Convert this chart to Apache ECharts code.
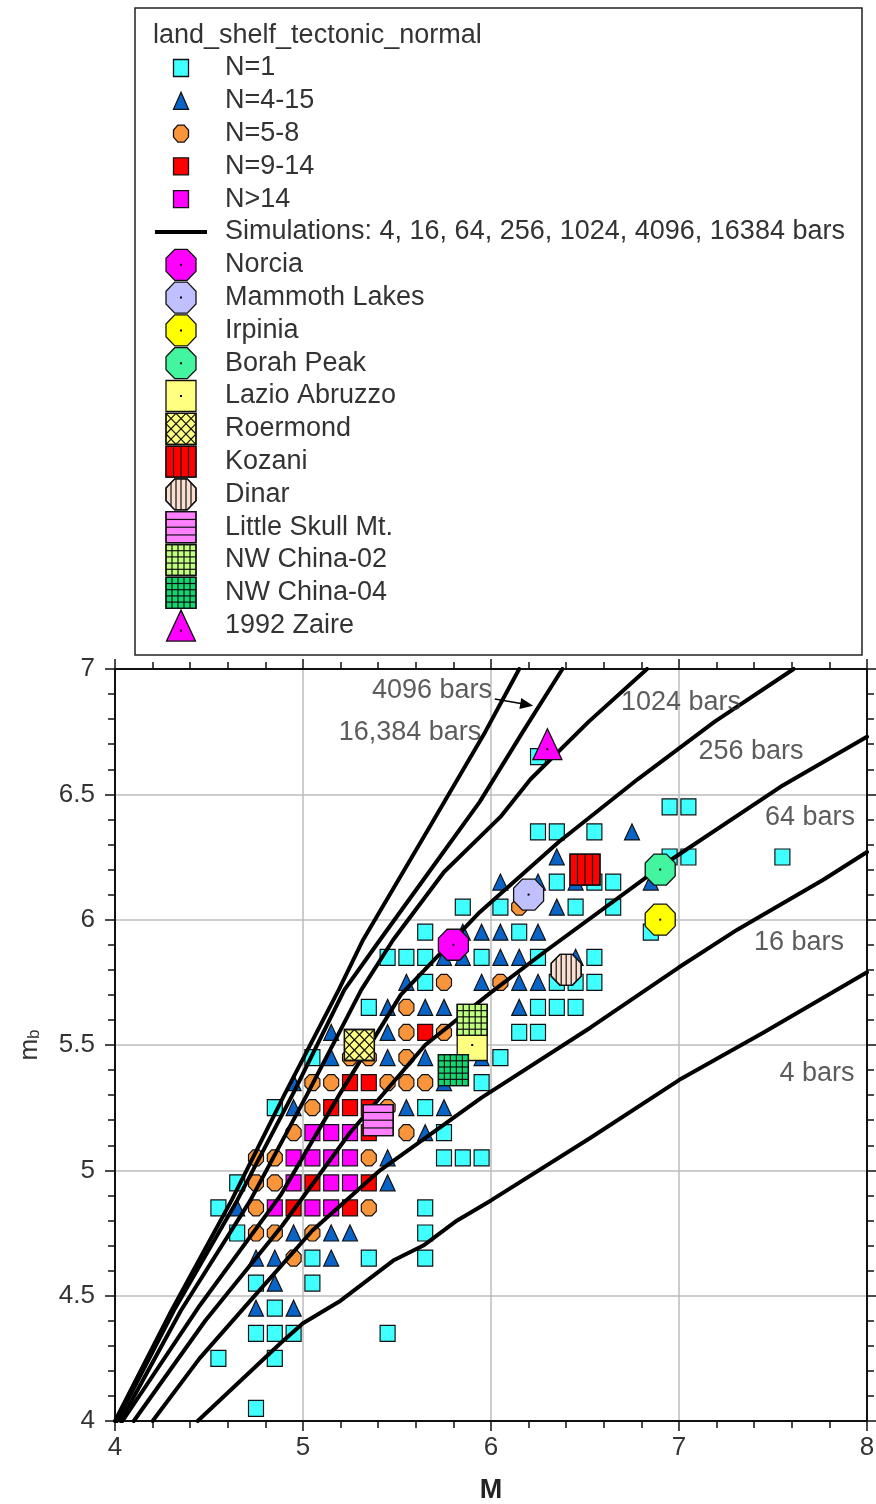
<!DOCTYPE html>
<html>
<head>
<meta charset="utf-8">
<title>mb versus M</title>
<script src="https://cdn.jsdelivr.net/npm/echarts@6.0.0/dist/echarts.min.js"></script>
<style>
  html, body { margin: 0; padding: 0; background: #ffffff; }
  #chart { width: 876px; height: 1504px; }
</style>
</head>
<body>
<div id="chart"></div>
<script>
// ---------- binned observations: [M, mb] at the centre of each populated bin ----------
const binN1 = [
  [4.75,4.05],
  [4.55,4.25],[4.85,4.25],
  [4.75,4.35],[4.85,4.35],[4.95,4.35],[5.45,4.35],
  [4.85,4.45],
  [4.75,4.55],[5.05,4.55],
  [5.05,4.65],[5.35,4.65],[5.65,4.65],
  [4.65,4.75],[5.65,4.75],
  [4.55,4.85],[5.65,4.85],
  [4.65,4.95],
  [5.75,5.05],[5.85,5.05],[5.95,5.05],
  [5.75,5.15],
  [4.85,5.25],[5.65,5.25],
  [5.95,5.35],
  [5.05,5.45],[6.05,5.45],
  [6.15,5.55],[6.25,5.55],
  [5.35,5.65],[6.25,5.65],[6.35,5.65],[6.45,5.65],
  [5.65,5.75],[6.35,5.75],[6.45,5.75],[6.55,5.75],
  [5.45,5.85],[5.55,5.85],[5.65,5.85],[5.95,5.85],[6.25,5.85],[6.55,5.85],
  [5.65,5.95],[6.15,5.95],[6.85,5.95],
  [5.85,6.05],[6.05,6.05],[6.45,6.05],[6.65,6.05],
  [6.35,6.15],[6.55,6.15],[6.65,6.15],
  [6.95,6.25],[7.05,6.25],[7.55,6.25],
  [6.25,6.35],[6.35,6.35],[6.55,6.35],
  [6.95,6.45],[7.05,6.45],
  [6.25,6.65]
];
const binN4to15 = [
  [4.75,4.45],[4.95,4.45],
  [4.85,4.55],
  [4.75,4.65],[4.85,4.65],[5.15,4.65],
  [4.95,4.75],[5.15,4.75],[5.25,4.75],
  [4.65,4.85],
  [5.45,4.95],
  [5.45,5.05],
  [5.65,5.15],
  [4.95,5.25],[5.55,5.25],[5.75,5.25],
  [4.95,5.35],[5.75,5.35],
  [5.15,5.45],[5.45,5.45],[5.65,5.45],[5.95,5.45],
  [5.15,5.55],[5.45,5.55],
  [5.45,5.65],[5.65,5.65],[5.75,5.65],[6.15,5.65],
  [5.55,5.75],[5.95,5.75],[6.15,5.75],[6.25,5.75],
  [5.75,5.85],[5.85,5.85],[6.05,5.85],[6.15,5.85],[6.45,5.85],
  [5.85,5.95],[5.95,5.95],[6.05,5.95],[6.25,5.95],
  [6.35,6.05],
  [6.05,6.15],[6.25,6.15],[6.45,6.15],[6.85,6.15],
  [6.35,6.25],
  [6.75,6.35]
];
const binN5to8 = [
  [4.95,4.65],
  [4.75,4.75],[4.85,4.75],[5.05,4.75],
  [4.75,4.85],[5.35,4.85],
  [4.75,4.95],[4.85,4.95],
  [4.75,5.05],[4.85,5.05],[5.35,5.05],
  [4.95,5.15],[5.55,5.15],
  [5.05,5.25],[5.45,5.25],
  [5.05,5.35],[5.15,5.35],[5.45,5.35],[5.55,5.35],[5.65,5.35],
  [5.25,5.45],[5.35,5.45],[5.55,5.45],
  [5.55,5.55],[5.75,5.55],
  [5.55,5.65],
  [5.75,5.75],[6.05,5.75],
  [6.15,6.05]
];
const binN9to14 = [
  [4.95,4.85],[5.25,4.85],
  [5.05,4.95],[5.35,4.95],
  [5.35,5.15],
  [5.15,5.25],[5.25,5.25],[5.35,5.25],
  [5.25,5.35],[5.35,5.35],
  [5.65,5.55]
];
const binOver14 = [
  [4.85,4.85],[5.05,4.85],[5.15,4.85],
  [4.95,4.95],[5.15,4.95],[5.25,4.95],
  [4.95,5.05],[5.05,5.05],[5.15,5.05],[5.25,5.05],
  [5.05,5.15],[5.15,5.15],[5.25,5.15]
];

// ---------- simulated mb(M) curves, one per number of bars ----------
const sim4 = [[4.44,4.0],[4.88,4.31],[5.0,4.39],[5.2,4.48],[5.48,4.64],[5.64,4.70],[5.82,4.80],[6.0,4.88],[6.53,5.13],[7.0,5.36],[7.45,5.55],[8.0,5.79]];
const sim16 = [[4.20,4.0],[4.45,4.25],[4.72,4.48],[5.05,4.76],[5.41,5.00],[5.95,5.29],[6.53,5.57],[7.0,5.81],[7.31,5.96],[7.77,6.16],[8.0,6.27]];
const sim64 = [[4.10,4.0],[4.48,4.40],[4.89,4.78],[5.25,5.15],[5.65,5.50],[6.0,5.71],[6.30,5.88],[6.90,6.21],[7.54,6.53],[8.0,6.73]];
const sim256 = [[4.04,4.0],[4.45,4.46],[4.88,4.90],[5.20,5.31],[5.52,5.70],[5.94,6.03],[6.36,6.31],[6.78,6.56],[7.19,6.79],[7.61,7.0]];
const sim1024 = [[4.03,4.0],[4.35,4.44],[4.72,4.88],[5.02,5.30],[5.31,5.72],[5.48,5.92],[5.75,6.19],[6.05,6.41],[6.21,6.56],[6.52,6.79],[6.83,7.0]];
const sim4096 = [[4.01,4.0],[4.32,4.45],[4.65,4.88],[4.95,5.31],[5.22,5.72],[5.41,5.92],[5.68,6.20],[5.94,6.47],[6.17,6.75],[6.38,7.0]];
const sim16384 = [[4.0,4.0],[4.30,4.44],[4.62,4.88],[4.90,5.30],[5.19,5.72],[5.32,5.92],[5.65,6.34],[5.97,6.75],[6.15,7.0]];
const simBars = [4, 16, 64, 256, 1024, 4096, 16384];
const simCurves = [sim4, sim16, sim64, sim256, sim1024, sim4096, sim16384];

// ---------- named earthquakes ----------
const eventNames = ['Norcia','Mammoth Lakes','Irpinia','Borah Peak','Lazio Abruzzo','Roermond','Kozani','Dinar','Little Skull Mt.','NW China-02','NW China-04','1992 Zaire'];
const eventM  = [5.8, 6.2, 6.9, 6.9, 5.9, 5.3, 6.5, 6.4, 5.4, 5.9, 5.8, 6.3];
const eventMb = [5.9, 6.1, 6.0, 6.2, 5.5, 5.5, 6.2, 5.8, 5.2, 5.6, 5.4, 6.7];

// ---------- text ----------
const legendTitle = 'land_shelf_tectonic_normal';
const binNames = ['N=1', 'N=4-15', 'N=5-8', 'N=9-14', 'N>14'];
const simLegendText = 'Simulations: 4, 16, 64, 256, 1024, 4096, 16384 bars';
const curveLabelText = ['4096 bars', '16,384 bars', '1024 bars', '256 bars', '64 bars', '16 bars', '4 bars'];
const xTickLabels = ['4', '5', '6', '7', '8'];
const yTickLabels = ['4', '4.5', '5', '5.5', '6', '6.5', '7'];

// ---------- presentation ----------
const FONT = "'Liberation Sans', Arial, Helvetica, sans-serif";
const FS = 27;
const TEXT = '#333333';
const EDGE = '#111111';
const curveLabelAnchor = [[5.686,6.915],[5.569,6.745],[7.011,6.865],[7.383,6.669],[7.697,6.406],[7.638,5.907],[7.734,5.388]];

const octPath = 'path://M-0.414,-1L0.414,-1L1,-0.414L1,0.414L0.414,1L-0.414,1L-1,0.414L-1,-0.414Z';
const binStyle = [
  { symbol: 'rect',     fill: '#40ffff', size: [15, 16], shape: 'rect' },
  { symbol: 'triangle', fill: '#0a64c8', size: [15, 16], shape: 'tri' },
  { symbol: octPath,    fill: '#f8943a', size: [15, 16], shape: 'oct' },
  { symbol: 'rect',     fill: '#ff0000', size: [15, 16], shape: 'rect' },
  { symbol: 'rect',     fill: '#ff00ff', size: [15, 16], shape: 'rect' }
];
const binData = [binN1, binN4to15, binN5to8, binN9to14, binOver14];

const eventStyle = [
  { shape: 'oct',  fill: '#ff00ff', dot: true },
  { shape: 'oct',  fill: '#c0c0ff', dot: true },
  { shape: 'oct',  fill: '#ffff00', dot: true },
  { shape: 'oct',  fill: '#44f5a0', dot: true },
  { shape: 'rect', fill: '#ffff80', dot: true },
  { shape: 'rect', fill: '#ffff80', hatch: 'x' },
  { shape: 'rect', fill: '#ff0000', hatch: 'v' },
  { shape: 'oct',  fill: '#fbe0d2', hatch: 'vround' },
  { shape: 'rect', fill: '#ff80ff', hatch: 'h' },
  { shape: 'rect', fill: '#c0ff80', hatch: 'grid' },
  { shape: 'rect', fill: '#10d870', hatch: 'grid' },
  { shape: 'tri',  fill: '#ff00ff', dot: true }
];
const EVENT_W = 30, EVENT_H = 31;

function octPoints(cx, cy, rx, ry) {
  const k = 0.414;
  return [[cx - rx * k, cy - ry], [cx + rx * k, cy - ry], [cx + rx, cy - ry * k], [cx + rx, cy + ry * k],
          [cx + rx * k, cy + ry], [cx - rx * k, cy + ry], [cx - rx, cy + ry * k], [cx - rx, cy - ry * k]];
}

function outline(shape, cx, cy, w, h, fill) {
  const style = { fill: fill, stroke: EDGE, lineWidth: 1.3 };
  if (shape === 'oct') return { type: 'polygon', shape: { points: octPoints(cx, cy, w / 2, h / 2) }, style: style };
  if (shape === 'tri') return { type: 'polygon', shape: { points: [[cx, cy - h / 2], [cx + w / 2, cy + h / 2], [cx - w / 2, cy + h / 2]] }, style: style };
  return { type: 'rect', shape: { x: cx - w / 2, y: cy - h / 2, width: w, height: h }, style: style };
}

function hatchLines(kind, cx, cy, w, h) {
  const x0 = cx - w / 2, y0 = cy - h / 2, seg = [];
  if (kind === 'v') {
    for (let i = 1; i < 4; i++) { const x = x0 + w * i / 4; seg.push([x, y0, x, y0 + h]); }
  } else if (kind === 'h') {
    for (let i = 1; i < 4; i++) { const y = y0 + h * i / 4; seg.push([x0, y, x0 + w, y]); }
  } else if (kind === 'grid') {
    for (let i = 1; i < 5; i++) {
      const x = x0 + w * i / 5, y = y0 + h * i / 5;
      seg.push([x, y0, x, y0 + h]); seg.push([x0, y, x0 + w, y]);
    }
  } else if (kind === 'vround') {
    const rx = w / 2, ry = h / 2, k = 0.414;
    [-10, -5, 0, 5, 10].forEach(function (dx) {
      const a = Math.abs(dx);
      const ext = a <= rx * k ? ry : ry - (a - rx * k) * (ry / rx);
      seg.push([cx + dx, cy - ext, cx + dx, cy + ext]);
    });
  } else if (kind === 'x') {
    const s = w, t = h / w;
    [-20, -10, 0, 10, 20].forEach(function (c) {
      if (c >= 0) seg.push([x0 + c, y0, x0 + s, y0 + (s - c) * t]);
      else seg.push([x0, y0 - c * t, x0 + s + c, y0 + h]);
    });
    [10, 20, 30, 40, 50].forEach(function (d) {
      if (d <= s) seg.push([x0 + d, y0, x0, y0 + d * t]);
      else seg.push([x0 + s, y0 + (d - s) * t, x0 + d - s, y0 + h]);
    });
  }
  return seg.map(function (p) {
    return { type: 'line', shape: { x1: p[0], y1: p[1], x2: p[2], y2: p[3] }, style: { stroke: EDGE, lineWidth: 1.2 } };
  });
}

function eventShapes(idx, cx, cy) {
  const st = eventStyle[idx];
  const w = st.shape === 'tri' ? 29 : EVENT_W, h = EVENT_H;
  const out = [outline(st.shape, cx, cy, w, h, st.fill)];
  if (st.hatch) {
    out.push.apply(out, hatchLines(st.hatch, cx, cy, w, h));
    out.push(outline(st.shape, cx, cy, w, h, 'none'));
  }
  if (st.dot) {
    const dy = st.shape === 'tri' ? 5 : 0;
    out.push({ type: 'rect', shape: { x: cx - 1, y: cy + dy - 1, width: 2, height: 2 }, style: { fill: '#000' } });
  }
  return out;
}

// ---------- series ----------
const series = [];
binData.forEach(function (data, i) {
  series.push({
    name: binNames[i], type: 'scatter', data: data, z: 2,
    symbol: binStyle[i].symbol, symbolSize: binStyle[i].size,
    itemStyle: { color: binStyle[i].fill, borderColor: EDGE, borderWidth: 1.2, opacity: 1 },
    silent: true
  });
});
simCurves.forEach(function (curve, i) {
  const s = {
    name: simBars[i] + ' bars', type: 'line', data: curve, z: 3,
    showSymbol: false, symbol: 'none', smooth: false,
    lineStyle: { color: '#000', width: 4, join: 'round', cap: 'round' },
    silent: true, clip: true
  };
  if (simBars[i] === 4096) {
    s.markLine = {
      silent: true, symbol: ['none', 'triangle'], symbolSize: [11, 13],
      lineStyle: { color: '#000', width: 1.5, type: 'solid' }, label: { show: false },
      data: [[{ coord: [6.02, 6.88] }, { coord: [6.19, 6.858] }]]
    };
  }
  series.push(s);
});
eventNames.forEach(function (nm, i) {
  series.push({
    name: nm, type: 'custom', z: 4, silent: true,
    data: [[eventM[i], eventMb[i]]],
    renderItem: function (params, api) {
      const p = api.coord([api.value(0), api.value(1)]);
      return { type: 'group', children: eventShapes(i, p[0], p[1]) };
    }
  });
});
series.push({
  name: 'curve labels', type: 'scatter', z: 5, silent: true,
  symbolSize: 1, itemStyle: { color: 'rgba(0,0,0,0)' },
  data: curveLabelAnchor.map(function (c, i) { return { value: c, name: curveLabelText[i] }; }),
  label: { show: true, position: 'inside', formatter: '{b}', fontSize: FS, fontFamily: FONT, color: TEXT }
});

// ---------- legend drawn as graphics ----------
const LEG = { x: 135, y: 8, w: 727, h: 647, iconX: 181, textX: 225, firstRow: 68, step: 32.8 };
const legendEls = [];
legendEls.push({ type: 'rect', shape: { x: LEG.x, y: LEG.y, width: LEG.w, height: LEG.h }, style: { fill: '#fff', stroke: '#222', lineWidth: 1.5 } });
function legendText(t, x, y) {
  legendEls.push({ type: 'text', x: x, y: y, style: { text: t, fontSize: FS, fontFamily: FONT, fill: TEXT, verticalAlign: 'middle', align: 'left' } });
}
legendText(legendTitle, 153, 36);
let row = 0;
binNames.forEach(function (nm, i) {
  const y = LEG.firstRow + LEG.step * row;
  const b = binStyle[i];
  legendEls.push(outline(b.shape, LEG.iconX, y, b.size[0], b.size[1] + 1, b.fill));
  legendText(nm, LEG.textX, y);
  row++;
});
(function () {
  const y = LEG.firstRow + LEG.step * row;
  legendEls.push({ type: 'line', shape: { x1: 155, y1: y, x2: 207, y2: y }, style: { stroke: '#000', lineWidth: 4 } });
  legendText(simLegendText, LEG.textX, y);
  row++;
})();
eventNames.forEach(function (nm, i) {
  const y = LEG.firstRow + LEG.step * row;
  eventShapes(i, LEG.iconX, y).forEach(function (el) { legendEls.push(el); });
  legendText(nm, LEG.textX, y);
  row++;
});

// ---------- axes ----------
function valueAxis(extra) {
  return Object.assign({
    type: 'value',
    axisLine: { show: true, onZero: false, lineStyle: { color: EDGE, width: 2 } },
    axisTick: { show: true, inside: false, length: 10, lineStyle: { color: EDGE, width: 1.5 } },
    minorTick: { show: true, splitNumber: 5, length: 7, lineStyle: { color: EDGE, width: 1.5 } },
    splitLine: { show: false },
    minorSplitLine: { show: false }
  }, extra);
}

const option = {
  animation: false,
  backgroundColor: '#ffffff',
  textStyle: { fontFamily: FONT },
  grid: { left: 115, right: 9, top: 669, bottom: 83, containLabel: false, outerBoundsMode: 'none' },
  xAxis: [
    valueAxis({
      min: 4, max: 8, interval: 1, position: 'bottom',
      name: 'M', nameLocation: 'middle', nameGap: 56,
      nameTextStyle: { fontSize: FS, fontWeight: 'bold', color: '#222', fontFamily: FONT },
      axisLabel: { show: true, fontSize: 26, color: TEXT, margin: 14, fontFamily: FONT, showMinLabel: true, showMaxLabel: true,
                   formatter: function (v) { return xTickLabels[Math.round(v - 4)]; } },
      splitLine: { show: true, lineStyle: { color: '#bdbdbd', width: 1.5 } }
    }),
    valueAxis({ min: 4, max: 8, interval: 1, position: 'top', axisLabel: { show: false } })
  ],
  yAxis: [
    valueAxis({
      min: 4, max: 7, interval: 0.5, position: 'left',
      name: '{m|m}{b|b}', nameLocation: 'middle', nameRotate: 90, nameGap: 72,
      nameTextStyle: { color: TEXT, fontFamily: FONT,
        rich: { m: { fontSize: 26, fontFamily: FONT, color: TEXT, verticalAlign: 'bottom', lineHeight: 30 },
                b: { fontSize: 17, fontFamily: FONT, color: TEXT, verticalAlign: 'bottom', lineHeight: 22 } } },
      axisLabel: { show: true, fontSize: 26, color: TEXT, margin: 20, fontFamily: FONT, showMinLabel: true, showMaxLabel: true,
                   formatter: function (v) { return yTickLabels[Math.round((v - 4) * 2)]; } },
      splitLine: { show: true, lineStyle: { color: '#bdbdbd', width: 1.5 } }
    }),
    valueAxis({ min: 4, max: 7, interval: 0.5, position: 'right', axisLabel: { show: false } })
  ],
  graphic: { elements: legendEls },
  series: series
};

const chart = echarts.init(document.getElementById('chart'), null, { renderer: 'canvas' });
chart.setOption(option);
</script>
</body>
</html>
